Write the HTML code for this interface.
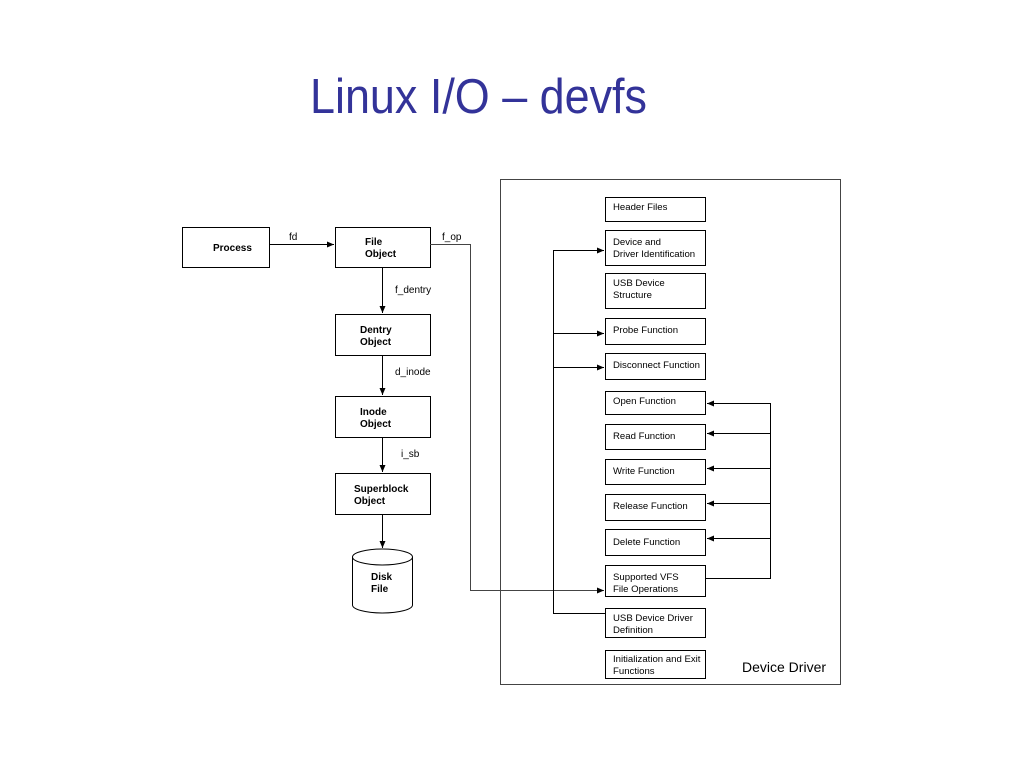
<!DOCTYPE html>
<html><head><meta charset="utf-8"><style>body{margin:0;background:#fff}svg{display:block}</style></head><body>
<svg width="1024" height="768" xmlns="http://www.w3.org/2000/svg" font-family="Liberation Sans, Arial, sans-serif">
<defs><marker id="a" markerWidth="8" markerHeight="8" refX="7" refY="4" orient="auto" markerUnits="userSpaceOnUse"><path d="M0,1 L7,4 L0,7 z" fill="#000"/></marker></defs>
<text x="310" y="113" font-size="49" fill="#333399" textLength="337" lengthAdjust="spacingAndGlyphs">Linux I/O – devfs</text>
<g fill="#fff" stroke="#000" stroke-width="1">
<rect x="500.5" y="179.5" width="340" height="505" stroke="#444"/>
<rect x="182.5" y="227.5" width="87" height="40"/>
<rect x="335.5" y="227.5" width="95" height="40"/>
<rect x="335.5" y="314.5" width="95" height="41"/>
<rect x="335.5" y="396.5" width="95" height="41"/>
<rect x="335.5" y="473.5" width="95" height="41"/>
<path d="M352.5,557 L352.5,605 A30,8 0 0 0 412.5,605 L412.5,557"/>
<ellipse cx="382.5" cy="557" rx="30" ry="8"/>
<rect x="605.5" y="197.5" width="100" height="24"/>
<rect x="605.5" y="230.5" width="100" height="35"/>
<rect x="605.5" y="273.5" width="100" height="35"/>
<rect x="605.5" y="318.5" width="100" height="26"/>
<rect x="605.5" y="353.5" width="100" height="26"/>
<rect x="605.5" y="391.5" width="100" height="23"/>
<rect x="605.5" y="424.5" width="100" height="25"/>
<rect x="605.5" y="459.5" width="100" height="25"/>
<rect x="605.5" y="494.5" width="100" height="26"/>
<rect x="605.5" y="529.5" width="100" height="26"/>
<rect x="605.5" y="565.5" width="100" height="31"/>
<rect x="605.5" y="608.5" width="100" height="29"/>
<rect x="605.5" y="650.5" width="100" height="28"/>
</g>
<g stroke="#000" fill="none" stroke-width="1">
<line x1="269" y1="244.5" x2="334" y2="244.5" marker-end="url(#a)"/>
<line x1="382.5" y1="268" x2="382.5" y2="313" marker-end="url(#a)"/>
<line x1="382.5" y1="356" x2="382.5" y2="395" marker-end="url(#a)"/>
<line x1="382.5" y1="438" x2="382.5" y2="472" marker-end="url(#a)"/>
<line x1="382.5" y1="515" x2="382.5" y2="548" marker-end="url(#a)"/>
<path d="M430,244.5 H470.5 V590.5 H604" stroke="#444" marker-end="url(#a)"/>
<path d="M605,613.5 H553.5 V250.5 H604" marker-end="url(#a)"/>
<line x1="553.5" y1="333.5" x2="604" y2="333.5" marker-end="url(#a)"/>
<line x1="553.5" y1="367.5" x2="604" y2="367.5" marker-end="url(#a)"/>
<path d="M706,578.5 H770.5 V403.5 H707" marker-end="url(#a)"/>
<line x1="770.5" y1="433.5" x2="707" y2="433.5" marker-end="url(#a)"/>
<line x1="770.5" y1="468.5" x2="707" y2="468.5" marker-end="url(#a)"/>
<line x1="770.5" y1="503.5" x2="707" y2="503.5" marker-end="url(#a)"/>
<line x1="770.5" y1="538.5" x2="707" y2="538.5" marker-end="url(#a)"/>
</g>
<g font-size="10" font-weight="bold" fill="#000">
<text x="213" y="251">Process</text>
<text x="365" y="245">File</text><text x="365" y="257">Object</text>
<text x="360" y="333">Dentry</text><text x="360" y="345">Object</text>
<text x="360" y="415">Inode</text><text x="360" y="427">Object</text>
<text x="354" y="492">Superblock</text><text x="354" y="504">Object</text>
<text x="371" y="580">Disk</text><text x="371" y="592">File</text>
</g>
<g font-size="10" fill="#000">
<text x="289" y="240">fd</text>
<text x="442" y="240">f_op</text>
<text x="395" y="293">f_dentry</text>
<text x="395" y="375">d_inode</text>
<text x="401" y="457">i_sb</text>
</g>
<g font-size="9.6" fill="#000">
<text x="613" y="210">Header Files</text>
<text x="613" y="245">Device and</text><text x="613" y="257">Driver Identification</text>
<text x="613" y="286">USB Device</text><text x="613" y="298">Structure</text>
<text x="613" y="333">Probe Function</text>
<text x="613" y="368">Disconnect Function</text>
<text x="613" y="404">Open Function</text>
<text x="613" y="439">Read Function</text>
<text x="613" y="474">Write Function</text>
<text x="613" y="509">Release Function</text>
<text x="613" y="545">Delete Function</text>
<text x="613" y="580">Supported VFS</text><text x="613" y="592">File Operations</text>
<text x="613" y="621">USB Device Driver</text><text x="613" y="633">Definition</text>
<text x="613" y="662">Initialization and Exit</text><text x="613" y="674">Functions</text>
<text x="742" y="672" font-size="14">Device Driver</text>
</g>
</svg>
</body></html>
